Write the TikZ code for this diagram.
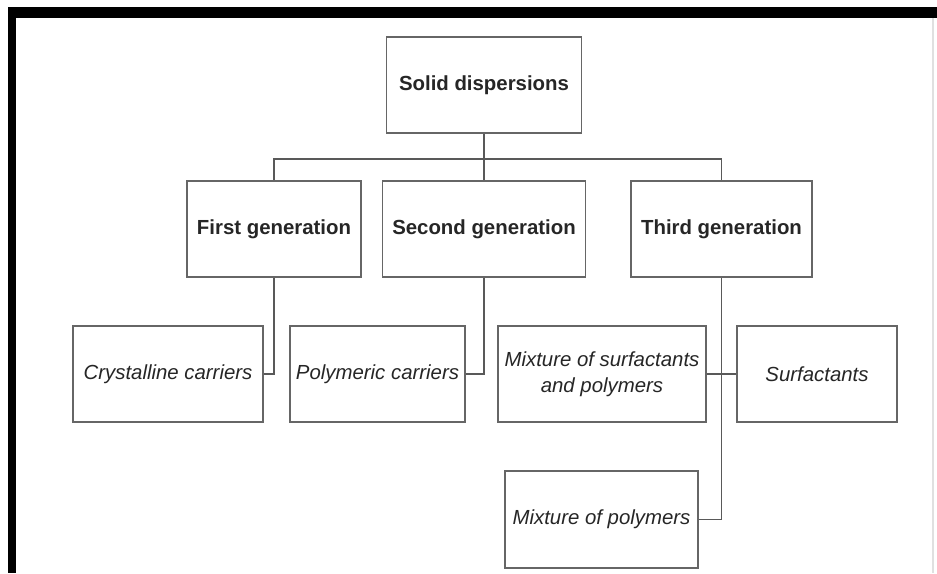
\documentclass[tikz,border=0pt]{standalone}
\usepackage{fontspec}
\setmainfont{Liberation Sans}
\usepackage{tikz}

\begin{document}
\begin{tikzpicture}[scale=1.0,
  box/.style={draw=black!60, line width=1.1pt, fill=white, align=center, inner sep=0pt,
    minimum height=1.93cm, text=black!85},
  head/.style={box, font=\fontsize{11.6}{14.8}\selectfont\bfseries},
  leaf/.style={box, font=\fontsize{11.6}{14.8}\selectfont\itshape},
  link/.style={draw=black!65, line width=1.1pt}]
\useasboundingbox (0,0) rectangle (18.74,-11.46);
% frame
\fill (0.16,-0.14) rectangle (18.74,-0.36);
\fill (0.16,-0.14) rectangle (0.32,-11.46);
\draw[black!12, line width=0.6pt] (18.66,-0.36) -- (18.66,-11.46);

% top level
\node[head, minimum width=3.9cm] (solid) at (9.68,-1.70) {Solid dispersions};

% generations
\node[head, minimum width=3.48cm] (first) at (5.48,-4.58) {First generation};
\node[head, minimum width=4.06cm] (second) at (9.68,-4.58) {Second generation};
\node[head, minimum width=3.62cm] (third) at (14.43,-4.58) {Third generation};

% carriers
\node[leaf, minimum width=3.8cm] (crystal) at (3.36,-7.48) {Crystalline carriers};
\node[leaf, minimum width=3.5cm] (polymer) at (7.55,-7.48) {Polymeric carriers};
\node[leaf, minimum width=4.16cm] (mixsurf) at (12.04,-7.48) {Mixture of surfactants\\and polymers};
\node[leaf, minimum width=3.2cm] (surf) at (16.34,-7.48) {Surfactants};
\node[leaf, minimum width=3.86cm] (mixpoly) at (12.03,-10.39) {Mixture of polymers};

% connectors
\coordinate (bus) at (9.68,-3.18);
\draw[link] (solid.south) -- (second.north);
\draw[link] (first.north) |- (bus) -| (third.north);
\draw[link] (first.south) |- (crystal.east);
\draw[link] (second.south) |- (polymer.east);
\draw[link] (third.south) |- (mixpoly.east);
\draw[link] (mixsurf.east) -- (surf.west);
\end{tikzpicture}
\end{document}
